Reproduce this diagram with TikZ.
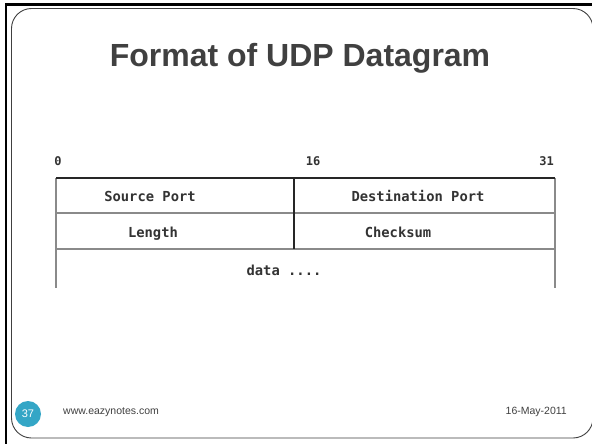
\documentclass[tikz,border=0pt]{standalone}
\usepackage{fontspec}
\setmainfont{Liberation Sans}
\newfontfamily\monofont{DejaVu Sans Mono}
\definecolor{titlegray}{HTML}{404040}
\definecolor{slideblue}{HTML}{34A6C6}
\definecolor{rulegray}{HTML}{8A8A8A}
\tikzset{
  fieldtext/.style={font=\monofont\bfseries\fontsize{13.8}{13.8}\selectfont, text=black!80, inner sep=0pt, anchor=base},
  bitlabel/.style={font=\monofont\bfseries\fontsize{12}{12}\selectfont, text=black!80, inner sep=0pt, anchor=base},
  footertext/.style={font=\fontsize{10.5}{10.5}\selectfont, text=titlegray, inner sep=0pt},
  thinrule/.style={draw=rulegray, line width=1.3pt},
  strongrule/.style={draw=black!85, line width=1.8pt}
}
\begin{document}
\begin{tikzpicture}[x=1pt, y=-1pt]
  \useasboundingbox (0,0) rectangle (592,444);
  \fill[white] (0,0) rectangle (592,444);
  % slide frame
  \draw[black, line width=2.5pt] (6,446) -- (6,4.5) -- (594,4.5);
  \draw[black!75, line width=0.9pt, rounded corners=20pt] (11.5,8.5) rectangle (593,438);
  % title
  \node[font=\bfseries\fontsize{32}{32}\selectfont, text=titlegray, inner sep=0pt] (title) at (300,58) {Format of UDP Datagram};
  % bit positions
  \node[bitlabel] (b0) at (58,165) {0};
  \node[bitlabel] (b16) at (313,165) {16};
  \node[bitlabel, anchor=base east] (b31) at (554,165) {31};
  % header layout
  \coordinate (tl) at (56,178);
  \coordinate (tr) at (555,178);
  \coordinate (tm) at (294,178);
  \draw[thinrule] (56,213) -- (555,213);
  \draw[thinrule] (56,249) -- (555,249);
  \draw[thinrule] (tl) -- (56,288);
  \draw[thinrule] (tr) -- (555,288);
  \draw[strongrule] (tm) -- (294,249);
  \draw[strongrule] (tl) -- (tr);
  % field names
  \node[fieldtext] (src) at (150,201) {Source Port};
  \node[fieldtext] (dst) at (418,201) {Destination Port};
  \node[fieldtext] (len) at (153,237) {Length};
  \node[fieldtext] (chk) at (398,237) {Checksum};
  \node[fieldtext] (dat) at (284,275) {data ....};
  % footer
  \node[circle, fill=slideblue, minimum size=26pt, inner sep=0pt, font=\fontsize{11}{11}\selectfont, text=white] (page) at (28,414) {37};
  \node[footertext, anchor=west] (site) at (63,412) {www.eazynotes.com};
  \node[footertext, anchor=east] (date) at (567,412) {16-May-2011};
\end{tikzpicture}
\end{document}
